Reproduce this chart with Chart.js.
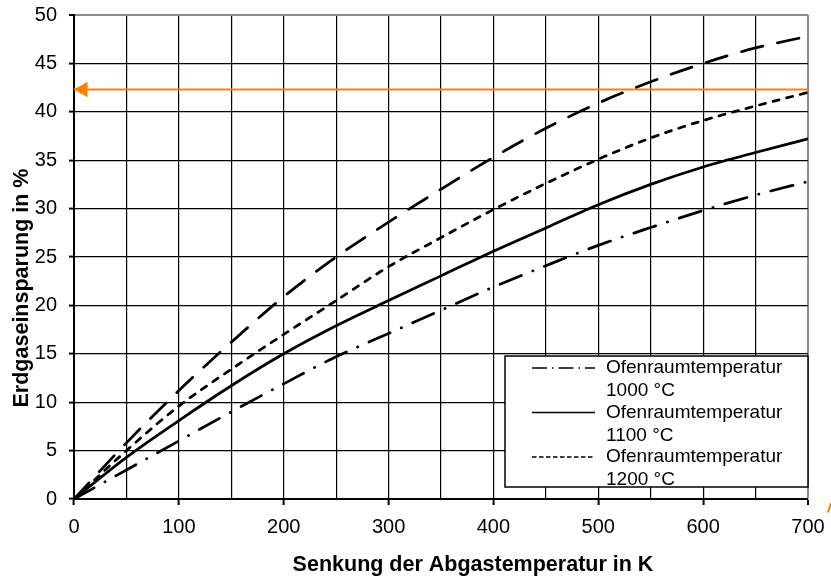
<!DOCTYPE html>
<html>
<head>
<meta charset="utf-8">
<script src="https://cdn.jsdelivr.net/npm/chart.js@4.4.0/dist/chart.umd.min.js"></script>
<style>
  html, body { margin: 0; padding: 0; background: #fff; }
  #chart { display: block; }
</style>
</head>
<body>
<canvas id="chart" width="831" height="576"></canvas>
<script>
const fontFamily = "'Liberation Sans', Arial, sans-serif";

// Senkung der Abgastemperatur in K
const senkung = [0, 50, 100, 150, 200, 250, 300, 350, 400, 450, 500, 550, 600, 650, 700];
// Erdgaseinsparung in %
const ofen1000 = [0, 3.0, 6.0, 9.0, 11.9, 14.7, 17.1, 19.5, 21.9, 24.1, 26.2, 28.05, 29.8, 31.4, 32.8];
const ofen1100 = [0, 4.3, 8.1, 11.7, 15.0, 17.9, 20.5, 23.05, 25.6, 28.0, 30.4, 32.5, 34.3, 35.8, 37.2];
const ofen1200 = [0, 5.0, 9.6, 13.4, 17.0, 20.5, 24.0, 27.0, 29.9, 32.6, 35.1, 37.3, 39.1, 40.6, 42.0];
const oberKurve = [0, 5.8, 11.2, 16.2, 20.9, 25.0, 28.6, 32.0, 35.3, 38.3, 40.9, 43.1, 45.0, 46.6, 47.8]; // ohne Legendeneintrag

const legendTexte = [['Ofenraumtemperatur', '1000 °C'], ['Ofenraumtemperatur', '1100 °C'], ['Ofenraumtemperatur', '1200 °C']];
const legendDash = [[15, 5, 1.5, 5], [], [4.5, 2.5]];

// orange Pfeil
const pfeilX = [0, 700, 723];
const pfeilY = [42.3, 42.3, 43.2];
const spitzeX = [8.6];
const spitzeY = [42.3];
const restX = [719, 722];
const restY = [-1.4, -0.4];

const orange = '#ff8000';

function toPoints(xs, ys) {
    return ys.map((y, i) => ({ x: xs[i], y: y }));
}

function kurve(werte, dash) {
    return {
        data: toPoints(senkung, werte),
        borderColor: '#000',
        borderWidth: 2.75,
        borderDash: dash,
        borderCapStyle: 'round',
        pointRadius: 0,
        cubicInterpolationMode: 'monotone'
    };
}

const legendBox = {
    id: 'legendBox',
    afterDraw(chart) {
        const ctx = chart.ctx;
        const area = chart.chartArea;
        const w = 303, h = 131;
        const left = area.right - w;
        const top = area.bottom - 12 - h;
        ctx.save();
        ctx.fillStyle = '#fff';
        ctx.fillRect(left, top, w, h);
        ctx.strokeStyle = '#000';
        ctx.lineWidth = 1.5;
        ctx.strokeRect(left, top, w, h);
        ctx.font = '19px ' + fontFamily;
        ctx.textBaseline = 'middle';
        ctx.textAlign = 'left';
        ctx.fillStyle = '#000';
        legendTexte.forEach((text, i) => {
            const y = top + 12 + i * 44.5;
            ctx.beginPath();
            ctx.lineWidth = 1.4;
            ctx.setLineDash(legendDash[i]);
            ctx.moveTo(left + 27, y);
            ctx.lineTo(left + 90, y);
            ctx.stroke();
            ctx.setLineDash([]);
            ctx.fillText(text[0], left + 101, y);
            ctx.fillText(text[1], left + 101, y + 23);
        });
        ctx.restore();
    }
};

const achsenTitel = {
    id: 'achsenTitel',
    afterDraw(chart) {
        const ctx = chart.ctx;
        const area = chart.chartArea;
        ctx.save();
        ctx.fillStyle = '#000';
        ctx.font = 'bold 21.5px ' + fontFamily;
        ctx.textAlign = 'center';
        ctx.textBaseline = 'middle';
        ctx.fillText('Senkung der Abgastemperatur in K', (area.left + area.right) / 2 + 32, chart.height - 11);
        ctx.translate(22, (area.top + area.bottom) / 2 + 31);
        ctx.rotate(-Math.PI / 2);
        ctx.fillText('Erdgaseinsparung in %', 0, 0);
        ctx.restore();
    }
};

const ctx = document.getElementById('chart').getContext('2d');
const chart = new Chart(ctx, {
    type: 'line',
    data: {
        datasets: [
            kurve(oberKurve, [22, 15]),
            kurve(ofen1200, [6.25, 7.75]),
            kurve(ofen1100, []),
            kurve(ofen1000, [23, 12.25, 0.25, 12.25]),
            {
                data: toPoints(pfeilX, pfeilY),
                borderColor: orange,
                borderWidth: 2,
                pointRadius: 0,
                clip: false
            },
            {
                data: toPoints(spitzeX, spitzeY),
                showLine: false,
                pointStyle: 'triangle',
                pointRotation: -90,
                pointRadius: 9,
                pointBorderWidth: 0,
                pointBackgroundColor: orange
            },
            {
                data: toPoints(restX, restY),
                borderColor: orange,
                borderWidth: 2,
                pointRadius: 0,
                clip: false
            }
        ]
    },
    options: {
        responsive: false,
        animation: false,
        devicePixelRatio: 1,
        layout: {
            padding: { top: 15, right: 23, left: 0, bottom: 0 }
        },
        scales: {
            x: {
                type: 'linear',
                min: 0,
                max: 700,
                afterFit: scale => {
                    scale.height = 77;
                    scale.paddingLeft = 0;
                    scale.paddingRight = 0;
                },
                ticks: {
                    stepSize: 50,
                    autoSkip: false,
                    maxRotation: 0,
                    color: '#000',
                    padding: 10,
                    font: { size: 20, family: fontFamily },
                    callback: v => (v % 100 === 0 ? v : '')
                },
                grid: {
                    color: c => (c.tick && c.tick.value === 700 ? '#8c8c8c' : '#000'),
                    lineWidth: c => (c.tick && c.tick.value === 700 ? 2 : 1.2),
                    tickLength: 6,
                    tickWidth: 2,
                    tickColor: c => (c.tick && c.tick.value % 100 === 0 ? '#000' : 'rgba(0,0,0,0)')
                },
                border: { color: '#000', width: 2 }
            },
            y: {
                min: 0,
                max: 50,
                afterFit: scale => {
                    scale.width = 74;
                    scale.paddingTop = 0;
                    scale.paddingBottom = 0;
                },
                ticks: {
                    stepSize: 5,
                    color: '#000',
                    padding: 12,
                    font: { size: 20, family: fontFamily }
                },
                grid: {
                    color: c => (c.tick && c.tick.value === 50 ? '#8c8c8c' : '#000'),
                    lineWidth: c => (c.tick && c.tick.value === 50 ? 2 : 1.2),
                    tickLength: 5,
                    tickWidth: 2,
                    tickColor: '#000'
                },
                border: { color: '#000', width: 2 }
            }
        },
        plugins: {
            legend: { display: false },
            tooltip: { enabled: false }
        }
    },
    plugins: [legendBox, achsenTitel]
});
</script>
</body>
</html>
